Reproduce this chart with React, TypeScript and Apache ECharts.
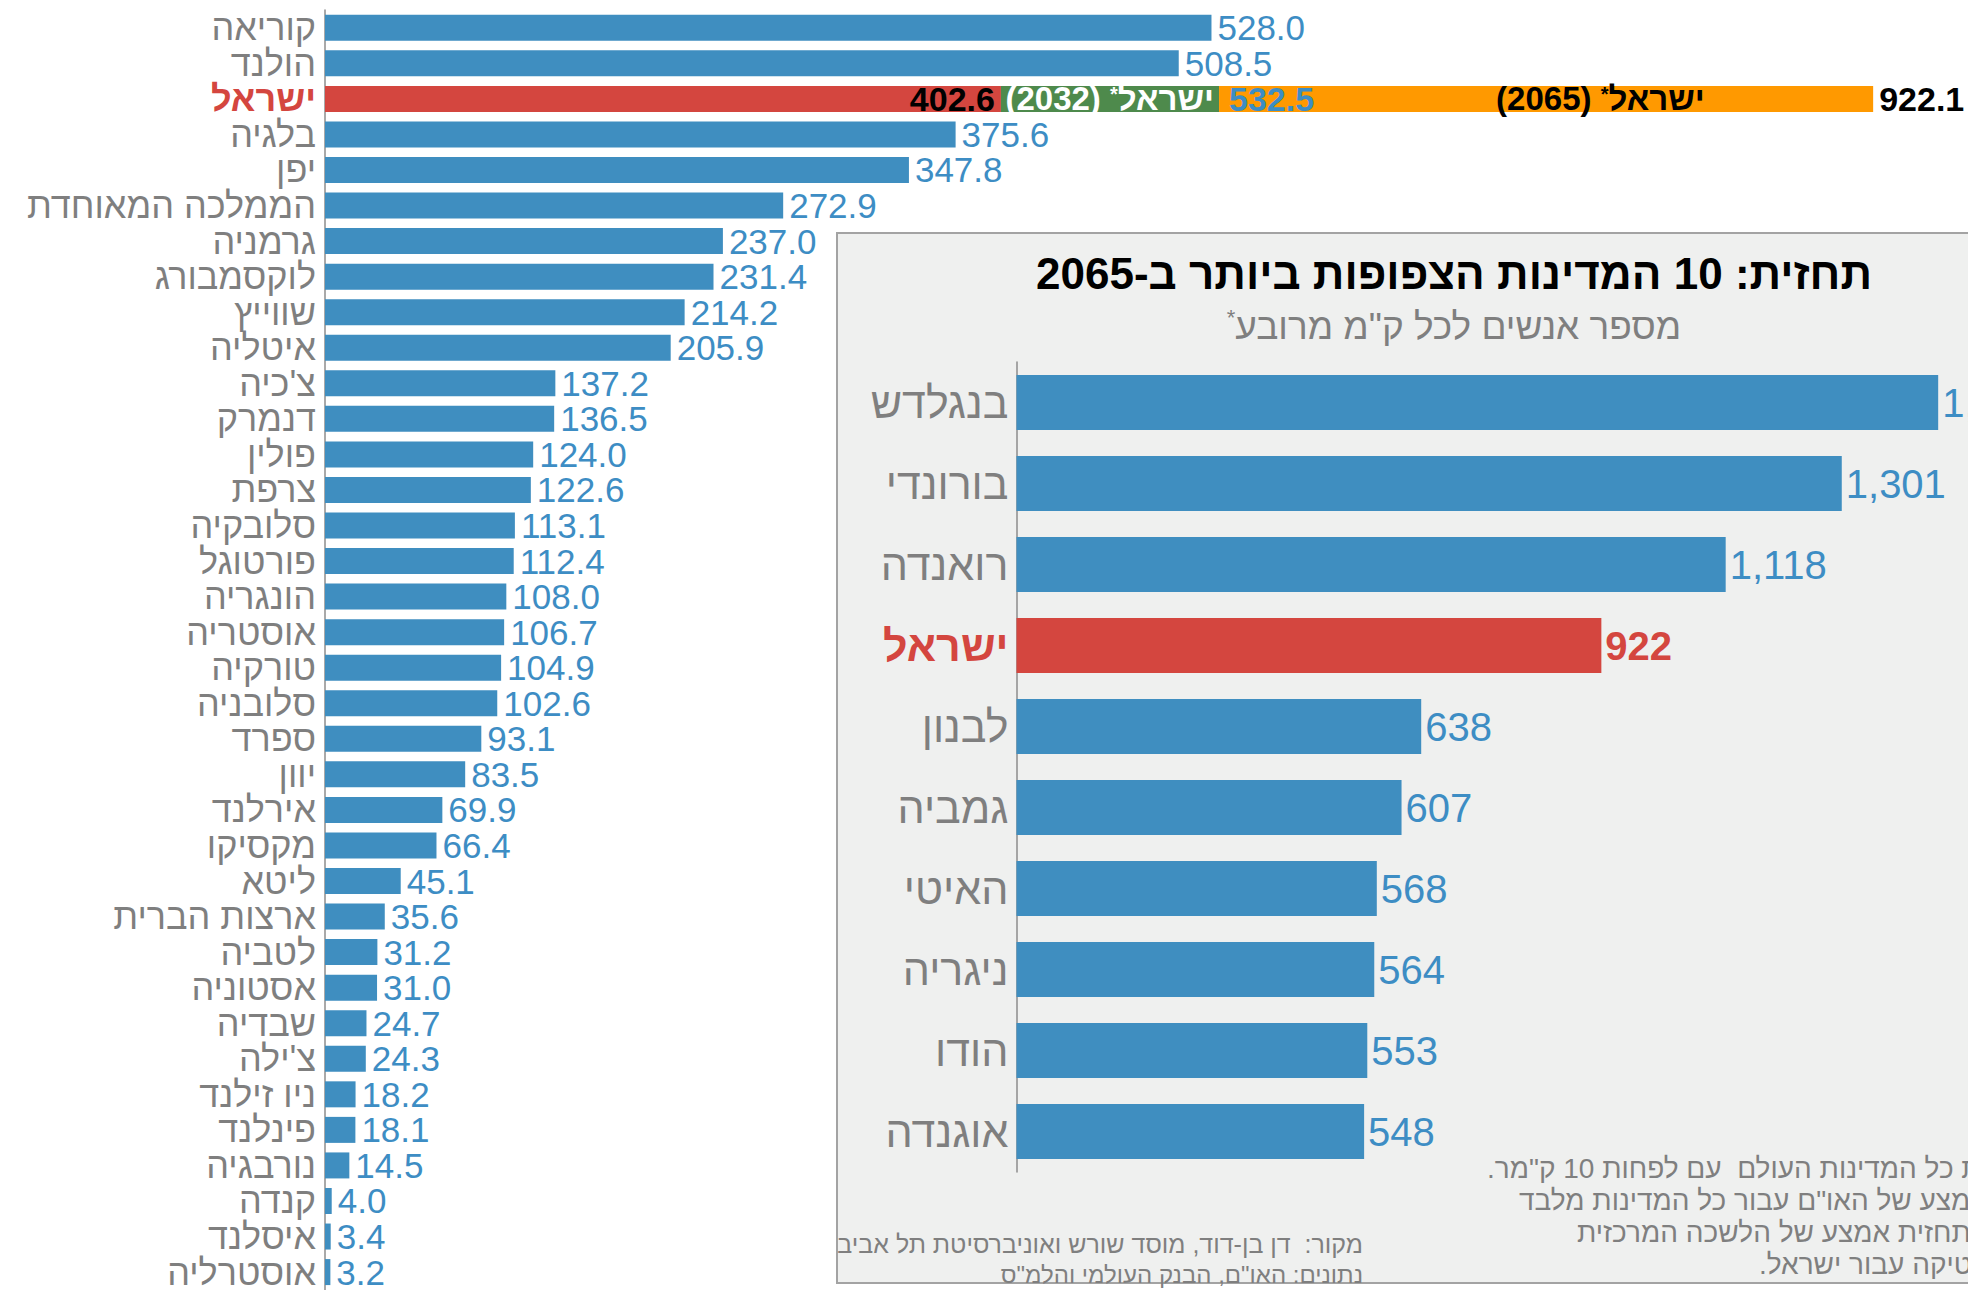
import React, { useEffect, useRef } from 'react';
import * as echarts from 'echarts';

// ---------- data ----------
const countries = [
  'קוריאה', 'הולנד', 'ישראל', 'בלגיה', 'יפן', 'הממלכה המאוחדת', 'גרמניה', 'לוקסמבורג',
  'שווייץ', 'איטליה', "צ'כיה", 'דנמרק', 'פולין', 'צרפת', 'סלובקיה', 'פורטוגל', 'הונגריה',
  'אוסטריה', 'טורקיה', 'סלובניה', 'ספרד', 'יוון', 'אירלנד', 'מקסיקו', 'ליטא', 'ארצות הברית',
  'לטביה', 'אסטוניה', 'שבדיה', "צ'ילה", 'ניו זילנד', 'פינלנד', 'נורבגיה', 'קנדה', 'איסלנד', 'אוסטרליה',
];
const density = [
  528.0, 508.5, 402.6, 375.6, 347.8, 272.9, 237.0, 231.4, 214.2, 205.9, 137.2, 136.5, 124.0, 122.6,
  113.1, 112.4, 108.0, 106.7, 104.9, 102.6, 93.1, 83.5, 69.9, 66.4, 45.1, 35.6, 31.2, 31.0, 24.7,
  24.3, 18.2, 18.1, 14.5, 4.0, 3.4, 3.2,
];
const israelName = 'ישראל';
const israel2032 = 532.5;
const israel2065 = 922.1;

const forecastCountries = ['בנגלדש', 'בורונדי', 'רואנדה', 'ישראל', 'לבנון', 'גמביה', 'האיטי', 'ניגריה', 'הודו', 'אוגנדה'];
const forecast2065 = [1453, 1301, 1118, 922, 638, 607, 568, 564, 553, 548];

const titleText = 'תחזית: 10 המדינות הצפופות ביותר ב-2065';
const subtitleText = 'מספר אנשים לכל ק"מ מרובע';
const footnoteLines = [
  '* כולל את כל המדינות העולם  עם לפחות 10 ק"מר.',
  'תחזית אמצע של האו"ם עבור כל המדינות מלבד',
  'ישראל. תחזית אמצע של הלשכה המרכזית',
  'לסטטיסטיקה עבור ישראל.',
];
const sourceLines = ['מקור:  דן בן-דוד, מוסד שורש ואוניברסיטת תל אביב', 'נתונים: האו"ם, הבנק העולמי והלמ"ס'];

// ---------- styles ----------
const BLUE = '#3f8ec0';
const LABEL_BLUE = '#3d8dc4';
const RED = '#d4463f';
const GREEN = '#4e8a4c';
const ORANGE = '#ff9900';
const GRAY = '#7f7f7f';
const FONT = '"Liberation Sans", Arial, sans-serif';
const RLM = '\u200F';
const rtl = (s: string) => RLM + s + RLM;

export default function App() {
  const ref = useRef<HTMLDivElement>(null);

  useEffect(() => {
    if (!ref.current) return;
    const chart = echarts.init(ref.current, undefined, { renderer: 'svg' });
    const ilIdx = countries.indexOf(israelName);
    const ilIdx2 = forecastCountries.indexOf(israelName);

    const mainData = density.map((v, i) =>
      i === ilIdx
        ? {
            value: v,
            itemStyle: { color: RED },
            label: { position: 'insideRight', distance: 6, color: '#000', fontWeight: 'bold', fontSize: 34, lineHeight: 30 },
          }
        : v
    );
    const greenData = countries.map((_, i) => (i === ilIdx ? +(israel2032 - density[i]).toFixed(1) : '-'));
    const orangeData = countries.map((_, i) => (i === ilIdx ? +(israel2065 - israel2032).toFixed(1) : '-'));
    const totalData = countries.map((_, i) => (i === ilIdx ? 0 : '-'));

    const insetData = forecast2065.map((v, i) =>
      i === ilIdx2
        ? { value: v, itemStyle: { color: RED }, label: { color: RED, fontWeight: 'bold' } }
        : v
    );

    const supStyle = (color: string) => ({
      color,
      fontWeight: 'bold',
      fontSize: 20,
      fontFamily: FONT,
      verticalAlign: 'top',
      lineHeight: 30,
    });

    chart.setOption({
      animation: false,
      textStyle: { fontFamily: FONT },
      grid: [
        { left: 325, top: 10, width: 1642, height: 1286 },
        { left: 1016.5, top: 362, width: 956.25, height: 810 },
      ],
      xAxis: [
        { type: 'value', gridIndex: 0, min: 0, max: 978, show: false },
        { type: 'value', gridIndex: 1, min: 0, max: 1500, show: false },
      ],
      yAxis: [
        {
          type: 'category',
          gridIndex: 0,
          data: countries,
          inverse: true,
          axisLine: { show: true, lineStyle: { color: '#8c8c8c', width: 1.5 } },
          axisTick: { show: false },
          axisLabel: {
            interval: 0,
            margin: 9,
            fontSize: 36,
            lineHeight: 33,
            color: GRAY,
            fontFamily: FONT,
            formatter: (v: string) => (v === israelName ? `{r|${v}}` : v),
            rich: { r: { color: RED, fontWeight: 'bold', fontSize: 36, lineHeight: 33, fontFamily: FONT } },
          },
        },
        {
          type: 'category',
          gridIndex: 1,
          data: forecastCountries,
          inverse: true,
          z: 3,
          axisLine: { show: true, lineStyle: { color: '#8c8c8c', width: 1.5 } },
          axisTick: { show: false },
          axisLabel: {
            interval: 0,
            margin: 8,
            fontSize: 43,
            color: GRAY,
            fontFamily: FONT,
            formatter: (v: string) => (v === israelName ? `{r|${v}}` : v),
            rich: { r: { color: RED, fontWeight: 'bold', fontSize: 43, fontFamily: FONT } },
          },
        },
      ],
      graphic: [
        {
          type: 'rect',
          z: 0,
          shape: { x: 837, y: 233, width: 1300, height: 1050 },
          style: { fill: '#eff0ef', stroke: '#a3a3a3', lineWidth: 2 },
        },
        {
          type: 'text',
          z: 10,
          x: 1454,
          y: 273,
          style: {
            text: titleText,
            fontSize: 44,
            fontWeight: 'bold',
            fontFamily: FONT,
            fill: '#000',
            align: 'center',
            verticalAlign: 'middle',
            textAlign: 'center',
            textVerticalAlign: 'middle',
          },
        },
        {
          type: 'text',
          z: 10,
          x: 1454,
          y: 326,
          style: {
            text: `{s|*}{t|${subtitleText}}`,
            align: 'center',
            verticalAlign: 'middle',
            textAlign: 'center',
            textVerticalAlign: 'middle',
            rich: {
              s: { fill: GRAY, fontSize: 22, fontFamily: FONT, verticalAlign: 'top', lineHeight: 40 },
              t: { fill: GRAY, fontSize: 37, fontFamily: FONT, lineHeight: 40 },
            },
          },
        },
        ...footnoteLines.map((line, i) => ({
          type: 'text',
          z: 10,
          x: [1487, 1519, 1577, 1759][i],
          y: 1168 + i * 32,
          style: {
            text: rtl(line),
            fontSize: 28,
            fontFamily: FONT,
            fill: GRAY,
            align: 'left',
            verticalAlign: 'middle',
            textAlign: 'left',
            textVerticalAlign: 'middle',
          },
        })),
        ...sourceLines.map((line, i) => ({
          type: 'text',
          z: 10,
          x: 1363,
          y: 1244 + i * 30,
          style: {
            text: rtl(line),
            fontSize: i === 0 ? 25 : 24,
            fontFamily: FONT,
            fill: GRAY,
            align: 'right',
            verticalAlign: 'middle',
            textAlign: 'right',
            textVerticalAlign: 'middle',
          },
        })),
      ],
      series: [
        {
          type: 'bar',
          xAxisIndex: 0,
          yAxisIndex: 0,
          stack: 'il',
          barWidth: 26,
          data: mainData,
          itemStyle: { color: BLUE },
          label: {
            show: true,
            position: 'right',
            distance: 6,
            fontSize: 35,
            lineHeight: 33,
            color: LABEL_BLUE,
            fontFamily: FONT,
            formatter: (p: any) => Number(p.value).toFixed(1),
          },
        },
        {
          type: 'bar',
          xAxisIndex: 0,
          yAxisIndex: 0,
          stack: 'il',
          data: greenData,
          itemStyle: { color: GREEN },
          label: {
            show: true,
            position: 'insideRight',
            distance: 5,
            formatter: `{w|(2032) }{ws|*}{w|${israelName}}`,
            rich: {
              w: { color: '#fff', fontWeight: 'bold', fontSize: 33, fontFamily: FONT, lineHeight: 30 },
              ws: supStyle('#fff'),
            },
          },
        },
        {
          type: 'bar',
          xAxisIndex: 0,
          yAxisIndex: 0,
          stack: 'il',
          data: orangeData,
          itemStyle: { color: ORANGE },
          label: {
            show: true,
            position: 'insideLeft',
            distance: 10,
            formatter: `{b|${israel2032.toFixed(1)}}{sp|}{k|(2065) }{ks|*}{k|${israelName}}`,
            rich: {
              b: { color: LABEL_BLUE, fontWeight: 'bold', fontSize: 34, fontFamily: FONT, lineHeight: 30 },
              sp: { width: 182 },
              k: { color: '#000', fontWeight: 'bold', fontSize: 33, fontFamily: FONT, lineHeight: 30 },
              ks: supStyle('#000'),
            },
          },
        },
        {
          type: 'bar',
          xAxisIndex: 0,
          yAxisIndex: 0,
          stack: 'il',
          data: totalData,
          itemStyle: { color: ORANGE },
          label: {
            show: true,
            position: 'right',
            distance: 6,
            color: '#000',
            fontWeight: 'bold',
            fontSize: 34,
            lineHeight: 30,
            fontFamily: FONT,
            formatter: () => israel2065.toFixed(1),
          },
        },
        {
          type: 'bar',
          xAxisIndex: 1,
          yAxisIndex: 1,
          barWidth: 55,
          z: 4,
          data: insetData,
          itemStyle: { color: BLUE },
          label: {
            show: true,
            position: 'right',
            distance: 4,
            fontSize: 40,
            color: LABEL_BLUE,
            fontFamily: FONT,
            formatter: (p: any) => Number(p.value).toLocaleString('en-US'),
          },
        },
      ],
    });

    return () => chart.dispose();
  }, []);

  return (
    <div
      ref={ref}
      style={{ position: 'fixed', left: 0, top: 0, width: 1968, height: 1290, background: '#fff' }}
    />
  );
}
